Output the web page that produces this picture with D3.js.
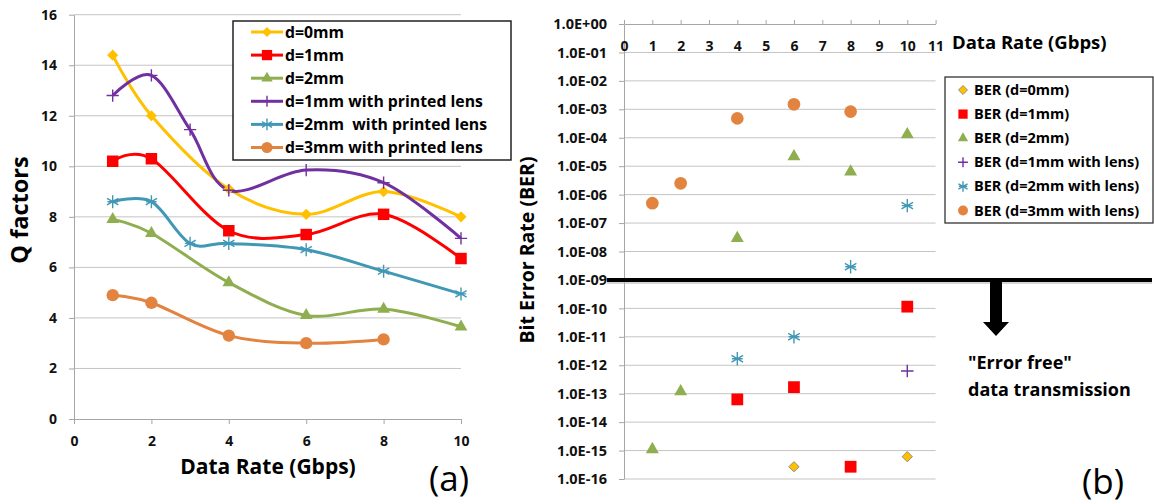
<!DOCTYPE html>
<html>
<head>
<meta charset="utf-8">
<script src="https://cdn.jsdelivr.net/npm/d3@7"></script>
<style>
  body { margin: 0; background: #fff; }
  svg { display: block; font-family: "Open Sans", Lato, sans-serif; font-weight: bold; }
  .grid line { stroke: #c4c4c4; stroke-width: 1; }
  .axis path, .axis line { stroke: #a6a6a6; }
  .axis text { fill: #111; font-weight: bold; }
</style>
</head>
<body>
<svg width="1154" height="504"></svg>
<script>
// ---- panel (a): Q factor vs data rate ----
const rates = [1, 2, 3, 4, 6, 8, 10];
const qNames = ['d=0mm', 'd=1mm', 'd=2mm', 'd=1mm with printed lens', 'd=2mm  with printed lens', 'd=3mm with printed lens'];
const qD0 = [14.4, 12.0, null, 9.1, 8.1, 9.0, 8.0];
const qD1 = [10.2, 10.3, null, 7.45, 7.3, 8.1, 6.35];
const qD2 = [7.9, 7.35, null, 5.4, 4.1, 4.35, 3.65];
const qD1Lens = [12.8, 13.6, 11.45, 9.05, 9.85, 9.35, 7.15];
const qD2Lens = [8.6, 8.6, 6.95, 6.95, 6.7, 5.85, 4.95];
const qD3Lens = [4.9, 4.6, null, 3.3, 3.0, 3.15, null];

// ---- panel (b): BER vs data rate ----
const berRates = [1, 2, 4, 6, 8, 10];
const berNames = ['BER (d=0mm)', 'BER (d=1mm)', 'BER (d=2mm)', 'BER (d=1mm with lens)', 'BER (d=2mm with lens)', 'BER (d=3mm with lens)'];
const berD0 = [null, null, null, 2.7e-16, null, 6.1e-16];
const berD1 = [null, null, 6.3e-14, 1.7e-13, 2.7e-16, 1.15e-10];
const berD2 = [1.1e-15, 1.2e-13, 2.9e-8, 2.2e-5, 6.4e-6, 1.3e-4];
const berD1Lens = [null, null, null, null, null, 6.3e-13];
const berD2Lens = [null, null, 1.7e-12, 1.0e-11, 2.9e-9, 4.1e-7];
const berD3Lens = [5e-7, 2.5e-6, 4.8e-4, 1.5e-3, 8.3e-4, null];
const berLimit = 1e-9;

const colors = ['#ffc000', '#ff0000', '#8fae4f', '#7030a0', '#4198b5', '#e2843f'];
const shapes = ['diamond', 'square', 'triangle', 'plus', 'asterisk', 'circle'];

// custom stroked symbols for the thin "+" and "*" markers
const plusType = {
  draw(ctx, size) {
    const r = Math.sqrt(size) / 2;
    ctx.moveTo(-r, 0); ctx.lineTo(r, 0);
    ctx.moveTo(0, -r); ctx.lineTo(0, r);
  }
};
const starType = {
  draw(ctx, size) {
    const r = Math.sqrt(size) / 2;
    for (let a = 0; a < 180; a += 60) {
      const t = (a + 90) * Math.PI / 180;
      ctx.moveTo(-r * Math.cos(t), -r * Math.sin(t));
      ctx.lineTo(r * Math.cos(t), r * Math.sin(t));
    }
    ctx.moveTo(-r * 0.8, 0); ctx.lineTo(r * 0.8, 0);
  }
};

function marker(g, shape, color, x, y, scale, outline) {
  let type, size, rot = 0, filled = true;
  if (shape === 'diamond') { type = d3.symbolSquare; size = 62 * scale; rot = 45; }
  else if (shape === 'square') { type = d3.symbolSquare; size = 132 * scale; }
  else if (shape === 'triangle') { type = d3.symbolTriangle; size = 70 * scale; }
  else if (shape === 'circle') { type = d3.symbolCircle; size = 120 * scale; }
  else if (shape === 'plus') { type = plusType; size = 150 * scale; filled = false; }
  else { type = starType; size = 170 * scale; filled = false; }
  g.append('path')
    .attr('d', d3.symbol(type, size)())
    .attr('transform', `translate(${x},${y}) rotate(${rot})`)
    .attr('fill', filled ? color : 'none')
    .attr('stroke', filled ? (outline || 'none') : color)
    .attr('stroke-width', filled ? 0.8 : 1.4);
}

const svg = d3.select('svg');

// ================= panel (a) =================
const xL = d3.scaleLinear().domain([0, 10]).range([74, 461]);
const yL = d3.scaleLinear().domain([0, 16]).range([419, 14.7]);
const gA = svg.append('g');

gA.append('g').attr('class', 'grid')
  .selectAll('line').data(d3.range(2, 17, 2)).join('line')
  .attr('x1', xL(0)).attr('x2', xL(10))
  .attr('y1', d => yL(d)).attr('y2', d => yL(d));

gA.append('g').attr('class', 'axis')
  .attr('transform', `translate(0,${yL(0)})`)
  .call(d3.axisBottom(xL).tickValues(d3.range(0, 11, 2)).tickSize(5).tickSizeOuter(0).tickPadding(12))
  .call(g => g.selectAll('text').attr('font-size', 14).attr('font-family', 'Open Sans'));

gA.append('g').attr('class', 'axis')
  .attr('transform', `translate(${xL(0)},0)`)
  .call(d3.axisLeft(yL).tickValues(d3.range(0, 17, 2)).tickSize(5).tickSizeOuter(0).tickPadding(12))
  .call(g => g.selectAll('text').attr('font-size', 14).attr('font-family', 'Open Sans'));

const qSeries = [qD0, qD1, qD2, qD1Lens, qD2Lens, qD3Lens];
const qLine = d3.line().x(d => xL(d[0])).y(d => yL(d[1])).curve(d3.curveCatmullRom.alpha(0));

qSeries.forEach((vals, i) => {
  const pts = rates.map((r, j) => [r, vals[j]]).filter(d => d[1] != null);
  gA.append('path').attr('d', qLine(pts))
    .attr('fill', 'none').attr('stroke', colors[i]).attr('stroke-width', 3);
});
qSeries.forEach((vals, i) => {
  rates.forEach((r, j) => {
    if (vals[j] != null) marker(gA, shapes[i], colors[i], xL(r), yL(vals[j]), 1);
  });
});

// legend (a)
const legA = gA.append('g');
legA.append('rect').attr('x', 233).attr('y', 21).attr('width', 278).attr('height', 139)
  .attr('fill', '#fff').attr('stroke', '#222').attr('stroke-width', 1.5);
qNames.forEach((name, i) => {
  const y = 32 + i * 23.1;
  legA.append('line').attr('x1', 251).attr('x2', 283).attr('y1', y).attr('y2', y)
    .attr('stroke', colors[i]).attr('stroke-width', 3);
  marker(legA, shapes[i], colors[i], 267, y, 0.8);
  legA.append('text').attr('x', 285).attr('y', y).attr('dy', '0.35em')
    .attr('font-size', 15.8).style('white-space', 'pre').text(name);
});

gA.append('text').attr('transform', 'translate(28,210) rotate(-90)')
  .attr('text-anchor', 'middle').attr('font-size', 23.5).text('Q factors');
gA.append('text').attr('x', 268).attr('y', 474)
  .attr('text-anchor', 'middle').attr('font-size', 21).text('Data Rate (Gbps)');
gA.append('text').attr('x', 449).attr('y', 491)
  .attr('text-anchor', 'middle').attr('font-size', 35).attr('font-weight', 'normal')
  .text('(a)');

// ================= panel (b) =================
const xR = d3.scaleLinear().domain([0, 11]).range([624, 935.6]);
const yR = d3.scaleLog().domain([1, 1e-16]).range([24, 479]);
const gB = svg.append('g');
const decades = d3.range(0, 17).map(i => Math.pow(10, -i));
const sci = v => {
  const e = Math.round(Math.log10(v));
  return e === 0 ? '1.0E+00' : '1.0E-' + String(-e).padStart(2, '0');
};

gB.append('g').attr('class', 'grid')
  .selectAll('line').data(decades.slice(1)).join('line')
  .attr('x1', xR(0)).attr('x2', xR(11))
  .attr('y1', d => yR(d)).attr('y2', d => yR(d));

gB.append('g').attr('class', 'axis')
  .attr('transform', `translate(${xR(0)},0)`)
  .call(d3.axisLeft(yR).tickValues(decades).tickFormat(sci).tickSize(5).tickSizeOuter(0).tickPadding(12))
  .call(g => g.selectAll('text').attr('font-size', 14.5).attr('font-family', 'Open Sans'));

gB.append('g').attr('class', 'axis')
  .attr('transform', `translate(0,${yR(1)})`)
  .call(d3.axisBottom(xR).tickValues(d3.range(0, 12)).tickSize(-4).tickSizeOuter(0).tickPadding(17))
  .call(g => g.selectAll('text').attr('font-size', 14).attr('font-family', 'Open Sans'));

const berSeries = [berD0, berD1, berD2, berD1Lens, berD2Lens, berD3Lens];
berSeries.forEach((vals, i) => {
  berRates.forEach((r, j) => {
    if (vals[j] != null) marker(gB, shapes[i], colors[i], xR(r), yR(vals[j]), i === 0 ? 0.85 : 1.05, i === 0 ? '#7f7f7f' : null);
  });
});

// error-free threshold line and arrow
const yLim = yR(berLimit);
gB.append('line').attr('x1', 607).attr('x2', 1152).attr('y1', yLim + 2).attr('y2', yLim + 2)
  .attr('stroke', '#bbb').attr('stroke-width', 4).attr('opacity', 0.6);
gB.append('line').attr('x1', 607).attr('x2', 1152).attr('y1', yLim).attr('y2', yLim)
  .attr('stroke', '#000').attr('stroke-width', 4);
const ax = 996;
gB.append('path')
  .attr('d', `M${ax - 6},${yLim} L${ax + 6},${yLim} L${ax + 6},${yLim + 42} L${ax + 13},${yLim + 42} L${ax},${yLim + 56} L${ax - 13},${yLim + 42} L${ax - 6},${yLim + 42} Z`)
  .attr('fill', '#000');
gB.append('text').attr('x', 968).attr('y', 369).attr('font-size', 18).text('"Error free"');
gB.append('text').attr('x', 968).attr('y', 396).attr('font-size', 18).text('data transmission');

// legend (b)
const legB = gB.append('g');
legB.append('rect').attr('x', 945).attr('y', 77).attr('width', 208).attr('height', 146)
  .attr('fill', '#fff').attr('stroke', '#222').attr('stroke-width', 1.2);
berNames.forEach((name, i) => {
  const y = 90 + i * 24.1;
  marker(legB, shapes[i], colors[i], 963, y, 0.65, i === 0 ? '#7f7f7f' : null);
  legB.append('text').attr('x', 974).attr('y', y).attr('dy', '0.35em')
    .attr('font-size', 14.5).text(name);
});

gB.append('text').attr('transform', 'translate(534,250) rotate(-90)')
  .attr('text-anchor', 'middle').attr('font-size', 19.5).text('Bit Error Rate (BER)');
gB.append('text').attr('x', 952).attr('y', 49).attr('font-size', 18.5).text('Data Rate (Gbps)');
gB.append('text').attr('x', 1103).attr('y', 494)
  .attr('text-anchor', 'middle').attr('font-size', 35).attr('font-weight', 'normal')
  .text('(b)');
</script>
</body>
</html>
